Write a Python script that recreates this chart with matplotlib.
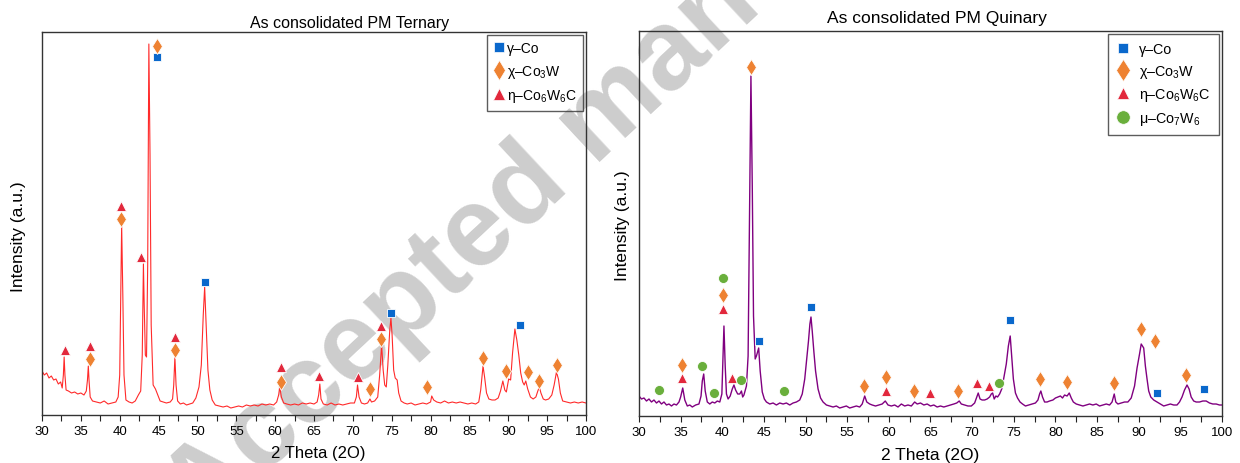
import matplotlib
matplotlib.use("Agg")
import matplotlib.pyplot as plt
from matplotlib.lines import Line2D

plt.rcParams['font.family'] = ['Liberation Sans', 'DejaVu Sans']
plt.rcParams['mathtext.fontset'] = 'custom'
plt.rcParams['mathtext.rm'] = 'Liberation Sans'
plt.rcParams['mathtext.it'] = 'Liberation Sans:italic'

# ternary pattern (2theta, intensity a.u.)
tern_theta = [30.0, 30.3, 30.6, 30.9, 31.2, 31.5, 31.8, 32.1, 32.4, 32.6, 32.75, 32.85, 32.95, 33.1,
              33.4, 33.8, 34.2, 34.6, 35.0, 35.4, 35.7, 35.85, 35.96, 36.05, 36.2, 36.5, 37.0, 37.5,
              38.0, 38.5, 39.0, 39.5, 39.8, 40.0, 40.1, 40.25, 40.4, 40.55, 40.8, 41.2, 41.6, 42.0,
              42.4, 42.7, 42.9, 43.05, 43.15, 43.3, 43.45, 43.6, 43.75, 43.9, 44.05, 44.3, 44.6, 44.9,
              45.2, 45.6, 46.0, 46.5, 46.8, 46.95, 47.1, 47.25, 47.45, 47.8, 48.2, 48.6, 49.0, 49.4,
              49.8, 50.2, 50.5, 50.75, 50.93, 51.1, 51.35, 51.6, 51.9, 52.3, 52.8, 53.3, 53.8, 54.3,
              54.8, 55.3, 55.8, 56.3, 56.8, 57.3, 57.8, 58.3, 58.8, 59.3, 59.8, 60.2, 60.45, 60.6,
              60.8, 61.1, 61.5, 62.0, 62.5, 63.0, 63.5, 64.0, 64.5, 65.0, 65.4, 65.6, 65.75, 65.9,
              66.2, 66.7, 67.2, 67.7, 68.2, 68.7, 69.2, 69.7, 70.2, 70.45, 70.6, 70.8, 71.1, 71.5,
              71.9, 72.2, 72.4, 72.8, 73.2, 73.45, 73.7, 73.9, 74.1, 74.3, 74.5, 74.75, 74.9, 75.05,
              75.25, 75.45, 75.7, 75.9, 76.2, 76.6, 77.0, 77.5, 78.0, 78.5, 79.0, 79.5, 80.0, 80.15,
              80.4, 80.8, 81.3, 81.8, 82.3, 82.8, 83.3, 83.8, 84.3, 84.8, 85.3, 85.8, 86.2, 86.45,
              86.75, 86.95, 87.2, 87.5, 87.9, 88.3, 88.7, 89.0, 89.3, 89.55, 89.75, 90.05, 90.3, 90.55,
              90.85, 91.1, 91.35, 91.6, 91.85, 92.05, 92.25, 92.5, 92.85, 93.2, 93.55, 93.8, 94.0, 94.2,
              94.5, 94.8, 95.2, 95.6, 95.9, 96.2, 96.45, 96.7, 97.0, 97.5, 98.0, 98.5, 99.0, 99.5, 100.0]
tern_int = [44, 40, 42, 37, 39, 35, 36, 31, 33, 27, 40, 58, 40, 25,
            24, 22, 23, 21, 22, 20, 24, 35, 49, 35, 18, 14, 13, 12,
            14, 11, 12, 13, 18, 40, 100, 190, 120, 40, 15, 13, 12, 14,
            20, 24, 60, 151, 110, 60, 58, 150, 371, 260, 90, 30, 26, 20,
            14, 13, 12, 13, 16, 30, 58, 30, 14, 11, 12, 10, 11, 12,
            17, 28, 50, 100, 128, 95, 45, 25, 15, 10, 9, 8, 9, 7,
            8, 9, 8, 10, 9, 10, 9, 11, 10, 11, 10, 13, 20, 28,
            18, 12, 11, 10, 11, 10, 12, 11, 12, 11, 13, 20, 31, 16,
            11, 10, 12, 10, 11, 10, 11, 12, 12, 18, 30, 18, 12, 11,
            12, 16, 13, 14, 18, 40, 70, 45, 30, 28, 50, 85, 97, 80,
            45, 37, 35, 22, 14, 12, 11, 12, 10, 11, 12, 11, 13, 19,
            15, 13, 12, 14, 12, 13, 12, 13, 12, 11, 12, 11, 13, 25,
            49, 38, 22, 16, 15, 15, 17, 24, 34, 25, 23, 36, 35, 62,
            86, 75, 60, 42, 33, 30, 34, 26, 18, 16, 18, 24, 28, 22,
            16, 15, 16, 20, 30, 43, 36, 22, 14, 13, 12, 13, 12, 13, 12]

# quinary pattern
quin_theta = [30.0, 30.3, 30.6, 30.9, 31.2, 31.5, 31.8, 32.1, 32.4, 32.7, 33.0, 33.3, 33.6, 33.9,
              34.2, 34.5, 34.8, 35.0, 35.25, 35.5, 35.8, 36.1, 36.4, 36.8, 37.2, 37.45, 37.6, 37.77,
              37.95, 38.2, 38.5, 38.8, 39.1, 39.4, 39.7, 39.95, 40.1, 40.2, 40.35, 40.5, 40.7, 40.95,
              41.2, 41.4, 41.6, 41.85, 42.1, 42.3, 42.45, 42.6, 42.9, 43.1, 43.25, 43.44, 43.6, 43.75,
              43.95, 44.1, 44.37, 44.55, 44.8, 45.05, 45.3, 45.7, 46.1, 46.5, 46.9, 47.3, 47.7, 48.1,
              48.5, 48.9, 49.3, 49.6, 49.9, 50.15, 50.35, 50.52, 50.65, 50.8, 51.0, 51.2, 51.5, 51.8,
              52.1, 52.5, 52.9, 53.3, 53.7, 54.1, 54.5, 54.9, 55.3, 55.7, 56.1, 56.5, 56.8, 57.1,
              57.35, 57.7, 58.0, 58.4, 58.8, 59.2, 59.57, 59.9, 60.3, 60.7, 61.1, 61.5, 61.9, 62.3,
              62.7, 63.1, 63.4, 63.8, 64.2, 64.6, 65.0, 65.4, 65.8, 66.2, 66.6, 67.0, 67.4, 67.8,
              68.15, 68.45, 68.7, 69.1, 69.5, 69.9, 70.3, 70.55, 70.73, 70.95, 71.2, 71.5, 71.8, 72.1,
              72.3, 72.46, 72.65, 72.85, 73.05, 73.3, 73.55, 73.8, 74.1, 74.35, 74.57, 74.75, 74.95, 75.2,
              75.45, 75.75, 76.05, 76.4, 76.8, 77.2, 77.6, 77.9, 78.1, 78.25, 78.45, 78.7, 79.0, 79.3,
              79.7, 80.0, 80.3, 80.6, 80.85, 81.1, 81.4, 81.66, 81.9, 82.15, 82.5, 82.9, 83.3, 83.7,
              84.1, 84.5, 84.9, 85.3, 85.7, 86.1, 86.5, 86.8, 87.06, 87.25, 87.5, 87.9, 88.3, 88.7,
              89.1, 89.5, 89.8, 90.1, 90.3, 90.45, 90.6, 90.8, 91.0, 91.2, 91.45, 91.8, 92.2, 92.6,
              93.0, 93.4, 93.8, 94.2, 94.6, 94.9, 95.2, 95.5, 95.8, 96.05, 96.3, 96.6, 96.9, 97.3,
              97.7, 98.1, 98.5, 98.9, 99.3, 99.7, 100.0]
quin_int = [20, 17, 18, 15, 17, 14, 16, 13, 15, 12, 14, 11, 12, 10,
            12, 11, 14, 19, 28, 16, 10, 11, 9, 11, 12, 20, 35, 42,
            25, 14, 12, 14, 13, 15, 14, 22, 65, 90, 50, 22, 17, 20,
            27, 31, 26, 22, 22, 25, 19, 21, 30, 60, 180, 340, 230, 100,
            57, 60, 68, 45, 24, 17, 14, 12, 13, 11, 13, 12, 13, 11,
            13, 14, 16, 22, 37, 58, 75, 92, 99, 85, 64, 45, 27, 18,
            14, 11, 10, 9, 10, 8, 9, 10, 8, 9, 10, 9, 12, 20,
            14, 12, 11, 10, 11, 12, 15, 11, 10, 11, 9, 12, 10, 11,
            10, 14, 12, 13, 11, 12, 10, 11, 9, 10, 9, 10, 11, 12,
            13, 15, 12, 11, 10, 10, 13, 19, 23, 17, 16, 16, 17, 19,
            22, 23, 17, 20, 19, 22, 27, 38, 52, 70, 80, 60, 37, 23,
            18, 14, 12, 10, 11, 12, 13, 16, 22, 25, 19, 14, 14, 15,
            16, 18, 19, 20, 18, 21, 20, 23, 18, 14, 12, 11, 10, 11,
            12, 11, 12, 10, 11, 12, 11, 14, 22, 14, 12, 13, 14, 14,
            18, 30, 48, 62, 72, 70, 68, 50, 37, 25, 19, 16, 14, 12,
            10, 11, 12, 11, 11, 14, 19, 26, 31, 27, 19, 15, 14, 14,
            15, 15, 13, 12, 12, 11, 11]

# phase markers (2theta, height)
tern_gamma = [(44.74, 358), (50.94, 133), (74.9, 102), (91.5, 90)]
tern_chi = [(36.2, 56), (40.2, 196), (44.74, 369), (47.1, 65), (60.8, 33), (72.2, 26), (73.6, 76),
            (79.6, 28), (86.8, 57), (89.7, 44), (92.5, 43), (94.0, 34), (96.3, 50)]
tern_eta = [(33.0, 65), (36.2, 69), (40.2, 209), (42.7, 158), (47.1, 78), (60.8, 48), (65.7, 39),
            (70.6, 38), (73.6, 89)]

quin_gamma = [(44.4, 75), (50.7, 109), (74.55, 96), (92.2, 23), (97.8, 27)]
quin_chi = [(35.2, 51), (40.06, 121), (43.5, 349), (57.0, 30), (59.65, 39), (63.0, 25), (68.3, 25),
            (78.15, 37), (81.4, 34), (87.0, 33), (90.3, 87), (91.9, 75), (95.7, 41)]
quin_eta = [(35.2, 38), (40.06, 107), (41.2, 38), (59.65, 25), (64.9, 23), (70.6, 33), (72.0, 30)]
quin_mu = [(32.46, 26), (37.6, 50), (39.0, 23), (40.06, 138), (42.3, 36), (47.4, 25), (73.2, 33)]

labels = ['γ–Co', 'χ–Co$_3$W', 'η–Co$_6$W$_6$C', 'μ–Co$_7$W$_6$']
blue, orange, red, green = '#0a68cc', '#ee8232', '#e2283c', '#6aaf3c'
styles = [('s', blue, 5.8), ('d', orange, 8.5), ('^', red, 6.8), ('o', green, 7.2)]

fig = plt.figure(figsize=(12.4, 4.64), dpi=100)
fig.text(0.163, -0.15, 'Accepted manuscript', rotation=43, rotation_mode='anchor',
         ha='left', va='baseline', fontsize=81, fontweight='bold', color='#cdcdcd', zorder=-1)

ax1 = fig.add_axes([0.03387, 0.10345, 0.43871, 0.82543])
ax2 = fig.add_axes([0.51532, 0.10129, 0.47016, 0.82974])


def draw_markers(ax, groups):
    for pts, (m, c, s) in zip(groups, styles):
        ax.plot([p[0] for p in pts], [p[1] for p in pts], ls='none', marker=m, color=c,
                ms=s, mec='white', mew=0.6, zorder=4)


def style_axes(ax, top):
    ax.patch.set_alpha(0)
    ax.set_xlim(30, 100)
    ax.set_ylim(0, top)
    ax.set_xticks(range(30, 101, 5))
    ax.set_xticks([x + 2.5 for x in range(30, 100, 5)], minor=True)
    ax.set_yticks([])
    ax.tick_params(axis='x', which='both', direction='out', length=4, width=0.8,
                   labelsize=9.5, color='#222222', pad=3)
    for sp in ax.spines.values():
        sp.set_color('#333333')
        sp.set_linewidth(1.0)


ax1.plot(tern_theta, tern_int, color='#ff2a2a', lw=0.8)
draw_markers(ax1, [tern_gamma, tern_chi, tern_eta])
style_axes(ax1, 383)
ax1.text(0.566, 1.024, 'As consolidated PM Ternary', transform=ax1.transAxes,
         ha='center', va='center', fontsize=11.5)
ax1.set_xlabel('2 Theta (2O)', fontsize=12, va='center')
ax1.xaxis.set_label_coords(0.507, -0.097)
ax1.set_ylabel('Intensity (a.u.)', fontsize=12.5, va='center')
ax1.yaxis.set_label_coords(-0.044, 0.467)

ax2.plot(quin_theta, quin_int, color='#800080', lw=1.0)
draw_markers(ax2, [quin_gamma, quin_chi, quin_eta, quin_mu])
style_axes(ax2, 385)
ax2.text(0.511, 1.035, 'As consolidated PM Quinary', transform=ax2.transAxes,
         ha='center', va='center', fontsize=12.5)
ax2.set_xlabel('2 Theta (2O)', fontsize=12.5, va='center')
ax2.xaxis.set_label_coords(0.5, -0.1)
ax2.set_ylabel('Intensity (a.u.)', fontsize=12.5, va='center')
ax2.yaxis.set_label_coords(-0.029, 0.496)

legend_opts = {3: dict(fontsize=10, borderpad=0.45, handletextpad=0.2, handlelength=0.8,
                       labelspacing=0.55, msf=1.25),
               4: dict(fontsize=10.3, borderpad=0.6, handletextpad=0.6, handlelength=1.0,
                       labelspacing=0.45, msf=1.35)}
for ax, n in [(ax1, 3), (ax2, 4)]:
    o = legend_opts[n]
    handles = [Line2D([], [], ls='none', marker=m, color=c, ms=s * o['msf'], mec='white', mew=0.5)
               for m, c, s in styles[:n]]
    leg = ax.legend(handles, labels[:n], loc='upper right', fontsize=o['fontsize'], frameon=True,
                    fancybox=False, edgecolor='#333333', borderaxespad=0.2,
                    handlelength=o['handlelength'], handletextpad=o['handletextpad'],
                    labelspacing=o['labelspacing'], borderpad=o['borderpad'])
    leg.get_frame().set_linewidth(1.0)
    leg.get_frame().set_facecolor('none')

fig.savefig('out.png', dpi=100)
